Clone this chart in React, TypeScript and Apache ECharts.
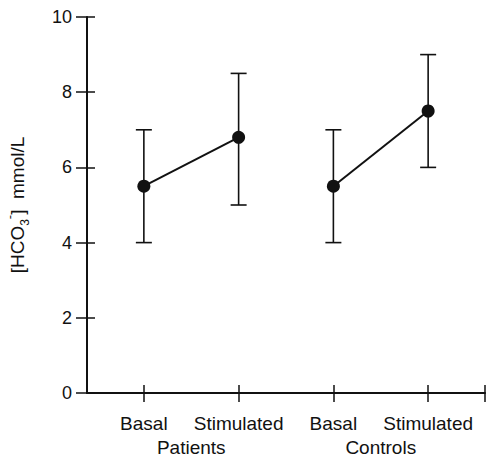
import React, { useEffect, useRef } from 'react';
import * as echarts from 'echarts';

const categories = ['Basal', 'Stimulated', 'Basal', 'Stimulated'];
const groups = ['Patients', 'Controls'];
const groupMembers = [[0, 1], [2, 3]];
const means = [5.5, 6.8, 5.5, 7.5];
const lows = [4, 5, 4, 6];
const highs = [7, 8.5, 7, 9];
const yTicks = [0, 2, 4, 6, 8, 10];

const FONT = '"Liberation Sans", Arial, sans-serif';
const INK = '#111';

export default function App() {
  const ref = useRef<HTMLDivElement>(null);
  useEffect(() => {
    if (!ref.current) return;
    const chart = echarts.init(ref.current, null, { renderer: 'svg' });
    const idx = categories.map((_, i) => i);
    const xMin = -0.6;
    const xMax = categories.length - 1 + 0.6;
    const groupCenters = groupMembers.map((m) => (m[0] + m[m.length - 1]) / 2);
    const tickVals = [...idx, xMax];

    const lineSeries = groupMembers.map((m, gi) => ({
      type: 'line',
      name: groups[gi],
      xAxisIndex: 0,
      yAxisIndex: 0,
      data: m.map((i) => [i, means[i]]),
      symbol: 'circle',
      symbolSize: 13,
      lineStyle: { color: INK, width: 2 },
      itemStyle: { color: INK },
      z: 5,
    }));

    const errData = idx.map((i) => [i, lows[i], highs[i]]);

    chart.setOption({
      animation: false,
      backgroundColor: '#fff',
      textStyle: { fontFamily: FONT, color: INK },
      grid: { left: 87, right: 6, top: 17, bottom: 65, containLabel: false, outerBoundsMode: 'none' },
      xAxis: [
        {
          type: 'value',
          min: xMin,
          max: xMax,
          position: 'bottom',
          axisLine: { show: true, onZero: false, lineStyle: { color: INK, width: 2 } },
          axisTick: { show: true, customValues: tickVals, length: 9, lineStyle: { color: INK, width: 1.5 } },
          axisLabel: {
            show: true,
            customValues: idx,
            formatter: (v: number) => categories[Math.round(v)] ?? '',
            margin: 21,
            fontSize: 19,
            fontFamily: FONT,
            color: INK,
          },
          splitLine: { show: false },
        },
        {
          type: 'value',
          min: xMin,
          max: xMax,
          position: 'bottom',
          offset: 0,
          axisLine: { show: false, onZero: false },
          axisTick: { show: true, inside: true, customValues: tickVals, length: 8, lineStyle: { color: INK, width: 1.5 } },
          axisLabel: {
            show: true,
            customValues: groupCenters,
            formatter: (v: number) => {
              const k = groupCenters.findIndex((c) => Math.abs(c - v) < 1e-6);
              return k >= 0 ? groups[k] : '';
            },
            margin: 45,
            fontSize: 19,
            fontFamily: FONT,
            color: INK,
          },
          splitLine: { show: false },
        },
      ],
      yAxis: [
        {
          type: 'value',
          min: yTicks[0],
          max: yTicks[yTicks.length - 1],
          interval: yTicks[1] - yTicks[0],
          position: 'left',
          axisLine: { show: true, onZero: false, lineStyle: { color: INK, width: 2 } },
          axisTick: { show: true, length: 11, lineStyle: { color: INK, width: 1.5 } },
          axisLabel: { margin: 15, fontSize: 18, fontFamily: FONT, color: INK },
          splitLine: { show: false },
          name: '{a|[HCO}{sub|3}{sup|-}{a|]  mmol/L}',
          nameLocation: 'middle',
          nameRotate: 90,
          nameGap: 56,
          nameTextStyle: {
            fontFamily: FONT,
            color: INK,
            rich: {
              a: { fontSize: 19, lineHeight: 28, fontFamily: FONT, color: INK, verticalAlign: 'middle' },
              sub: { fontSize: 12, lineHeight: 12, fontFamily: FONT, color: INK, verticalAlign: 'bottom' },
              sup: { fontSize: 13, lineHeight: 12, fontFamily: FONT, color: INK, verticalAlign: 'top' },
            },
          },
        },
        {
          type: 'value',
          min: yTicks[0],
          max: yTicks[yTicks.length - 1],
          interval: yTicks[1] - yTicks[0],
          position: 'left',
          offset: 0,
          axisLine: { show: false, onZero: false },
          axisTick: { show: true, inside: true, length: 8, lineStyle: { color: INK, width: 1.5 } },
          axisLabel: { show: false },
          splitLine: { show: false },
        },
      ],
      series: [
        {
          type: 'custom',
          xAxisIndex: 0,
          yAxisIndex: 0,
          data: errData,
          encode: { x: 0, y: [1, 2] },
          z: 3,
          renderItem: (_params: any, api: any) => {
            const x = api.value(0);
            const lo = api.coord([x, api.value(1)]);
            const hi = api.coord([x, api.value(2)]);
            const hw = 8;
            const style = { stroke: INK, lineWidth: 1.6, fill: 'none' };
            return {
              type: 'group',
              children: [
                { type: 'line', shape: { x1: hi[0], y1: hi[1], x2: lo[0], y2: lo[1] }, style },
                { type: 'line', shape: { x1: hi[0] - hw, y1: hi[1], x2: hi[0] + hw, y2: hi[1] }, style },
                { type: 'line', shape: { x1: lo[0] - hw, y1: lo[1], x2: lo[0] + hw, y2: lo[1] }, style },
              ],
            };
          },
        },
        ...lineSeries,
      ],
    });
    return () => chart.dispose();
  }, []);
  return (
    <div
      ref={ref}
      style={{ position: 'fixed', left: 0, top: 0, width: 491, height: 458, background: '#fff' }}
    />
  );
}
